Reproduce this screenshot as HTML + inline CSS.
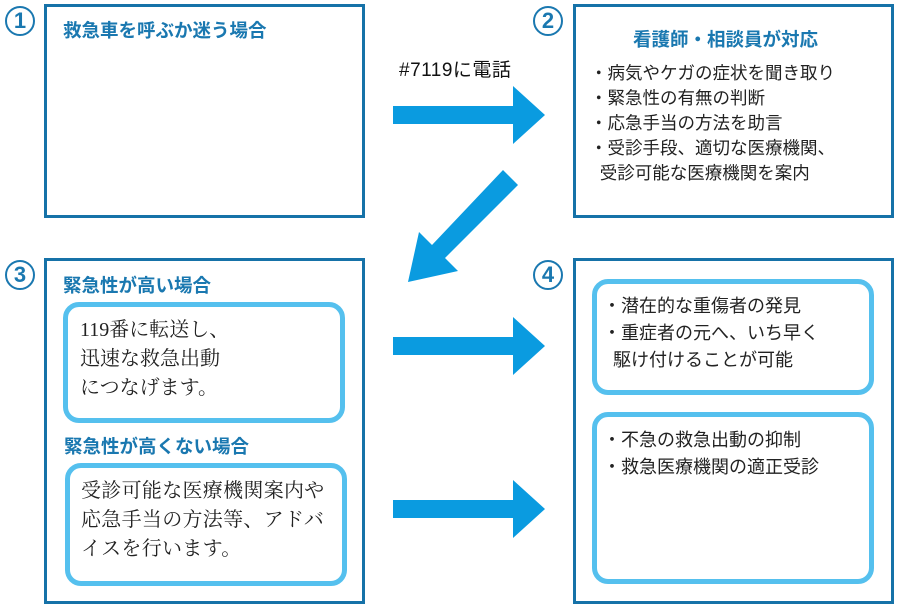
<!DOCTYPE html>
<html><head><meta charset="utf-8"><style>
body{margin:0;width:900px;height:612px;background:#fff;position:relative;overflow:hidden;font-family:"Liberation Sans","Noto Sans CJK JP",sans-serif}
.b{position:absolute;border:3px solid #1672a8;box-sizing:border-box}
.n{position:absolute;width:30px;height:30px;border:2px solid #1a78b0;border-radius:50%;box-sizing:border-box;color:#1a78b0;font-weight:bold;font-size:22px;line-height:26px;text-align:center}
.h{position:absolute;color:#1a78b0;font-size:18.5px;font-weight:bold}
.r{position:absolute;border:5px solid #55c0ee;border-radius:16px;box-sizing:border-box}
.s{font-family:"Liberation Serif","Noto Serif CJK SC",serif;font-size:20px;line-height:29px;color:#222;position:absolute}
.t{position:absolute;font-size:17.5px;line-height:25px;color:#222}
</style></head><body>
<div class="n" style="left:5px;top:6px">1</div>
<div class="n" style="left:5px;top:260px">3</div>
<div class="n" style="left:533px;top:6px">2</div>
<div class="n" style="left:533px;top:260px">4</div>
<div class="b" style="left:44px;top:4px;width:321px;height:214px"></div>
<div class="h" style="left:63px;top:17px">救急車を呼ぶか迷う場合</div>
<div class="b" style="left:573px;top:4px;width:321px;height:214px"></div>
<div class="h" style="left:633px;top:26px">看護師・相談員が対応</div>
<div class="t" style="left:590px;top:61px">・病気やケガの症状を聞き取り<br>・緊急性の有無の判断<br>・応急手当の方法を助言<br>・受診手段、適切な医療機関、<br>&nbsp;&nbsp;受診可能な医療機関を案内</div>
<div class="b" style="left:44px;top:258px;width:321px;height:346px"></div>
<div class="h" style="left:63px;top:272px">緊急性が高い場合</div>
<div class="r" style="left:63px;top:302px;width:282px;height:121px"></div>
<div class="s" style="left:80px;top:316px">119番に転送し、<br>迅速な救急出動<br>につなげます。</div>
<div class="h" style="left:64px;top:433px">緊急性が高くない場合</div>
<div class="r" style="left:65px;top:463px;width:282px;height:123px"></div>
<div class="s" style="left:81px;top:477px;letter-spacing:0.3px">受診可能な医療機関案内や<br>応急手当の方法等、アドバ<br>イスを行います。</div>
<div class="b" style="left:573px;top:258px;width:321px;height:346px"></div>
<div class="r" style="left:592px;top:279px;width:282px;height:116px"></div>
<div class="t" style="left:603px;top:293px;font-size:18px;line-height:27px">・潜在的な重傷者の発見<br>・重症者の元へ、いち早く<br>&nbsp;&nbsp;駆け付けることが可能</div>
<div class="r" style="left:592px;top:412px;width:282px;height:172px"></div>
<div class="t" style="left:603px;top:427px;font-size:18px;line-height:27px">・不急の救急出動の抑制<br>・救急医療機関の適正受診</div>
<div style="position:absolute;left:399px;top:55px;font-size:19px;color:#111;letter-spacing:0.5px">#7119に電話</div>
<svg width="900" height="612" style="position:absolute;left:0;top:0">
<g fill="#0a9be0">
<polygon points="393,106 513,106 513,86 545,115 513,144 513,124 393,124"/>
<polygon points="393,337 513,337 513,317 545,346 513,375 513,355 393,355"/>
<polygon points="393,500 513,500 513,480 545,509 513,538 513,518 393,518"/>
<polygon points="503,170 518,185 445,258 458,271 408,282 419,232 432,245"/>
</g></svg>
</body></html>
